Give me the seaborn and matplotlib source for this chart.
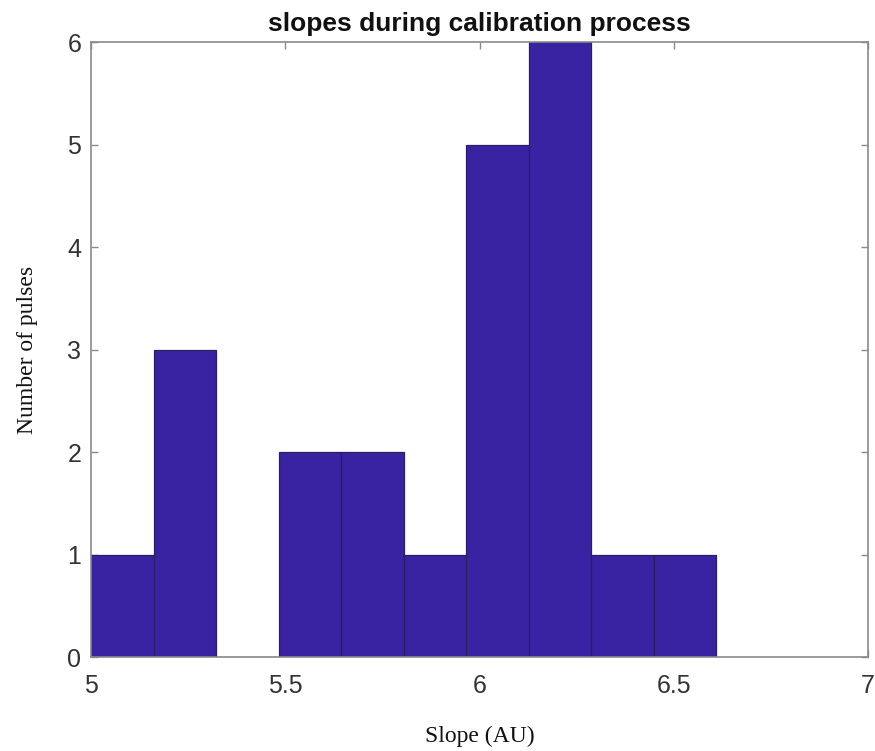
import matplotlib
matplotlib.use("Agg")
import matplotlib.pyplot as plt
import seaborn as sns
import pandas as pd

# Data
bin_edges = [5.000, 5.161, 5.322, 5.483, 5.644, 5.805, 5.966, 6.127, 6.288, 6.449, 6.610]
counts = [1, 3, 0, 2, 2, 1, 5, 6, 1, 1]
x_ticks = [5, 5.5, 6, 6.5, 7]
y_ticks = [0, 1, 2, 3, 4, 5, 6]

centers = [(a + b) / 2 for a, b in zip(bin_edges[:-1], bin_edges[1:])]
df = pd.DataFrame({"slope": centers, "n": counts})

sns.set_theme(style="white")
plt.rcParams["font.family"] = ["Liberation Sans", "DejaVu Sans"]

fig = plt.figure(figsize=(8.75, 7.51), dpi=100)
ax = fig.add_axes([0.104, 0.125, 0.888, 0.819])

sns.histplot(data=df, x="slope", weights="n", bins=bin_edges, ax=ax,
             color="#3a23a2", alpha=1.0, edgecolor="#2a2060", linewidth=0.9)

ax.set_xlim(5, 7)
ax.set_ylim(0, 6)
ax.set_xticks(x_ticks)
ax.set_xticklabels(["5", "5.5", "6", "6.5", "7"])
ax.set_yticks(y_ticks)

for s in ax.spines.values():
    s.set_visible(True)
    s.set_color("#8a8a8a")
    s.set_linewidth(1.2)

ax.tick_params(axis="both", which="both", direction="in", length=5, width=1,
               color="#8a8a8a", labelsize=18, labelcolor="#333333",
               top=True, right=True, bottom=True, left=True)
ax.tick_params(axis="x", pad=12)
ax.tick_params(axis="y", pad=7)

ax.set_title("slopes during calibration process", fontsize=19, fontweight="bold",
             color="#111111", pad=8)
ax.set_xlabel("Slope (AU)", family=["Liberation Serif", "DejaVu Serif"], fontsize=17,
              color="#111111", labelpad=20)
ax.set_ylabel("Number of pulses", family=["Liberation Serif", "DejaVu Serif"], fontsize=17,
              color="#111111", labelpad=21)

fig.savefig("out.png", dpi=100, facecolor="white")
